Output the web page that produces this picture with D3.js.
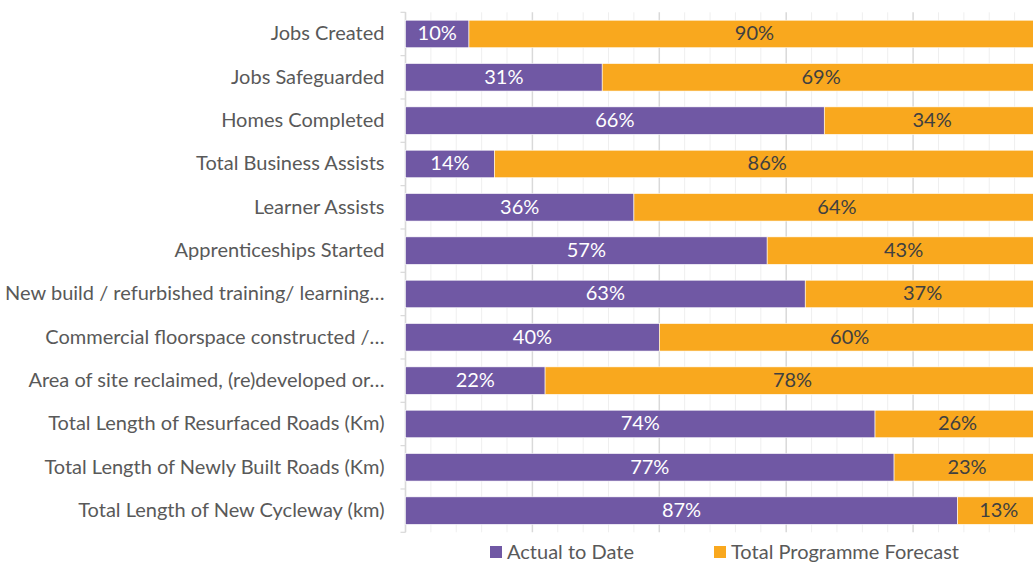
<!DOCTYPE html>
<html>
<head>
<meta charset="utf-8">
<script src="https://cdn.jsdelivr.net/npm/d3@7"></script>
<style>
  body { margin: 0; background: #fff; overflow: hidden; }
  svg { display: block; font-family: Lato, "Open Sans", sans-serif; }
</style>
</head>
<body>
<svg id="chart" width="1033" height="563"></svg>
<script>
// Categories, top to bottom
const categories = [
    "Jobs Created",
    "Jobs Safeguarded",
    "Homes Completed",
    "Total Business Assists",
    "Learner Assists",
    "Apprenticeships Started",
    "New build / refurbished training/ learning…",
    "Commercial floorspace constructed /…",
    "Area of site reclaimed, (re)developed or…",
    "Total Length of Resurfaced Roads (Km)",
    "Total Length of Newly Built Roads (Km)",
    "Total Length of New Cycleway (km)"
];
const actualToDate = [10, 31, 66, 14, 36, 57, 63, 40, 22, 74, 77, 87];
const programmeForecast = [90, 69, 34, 86, 64, 43, 37, 60, 78, 26, 23, 13];
const seriesNames = ["Actual to Date", "Total Programme Forecast"];
const seriesColors = ["#7058a4", "#f9a81e"];

const svg = d3.select("#chart");
const plotLeft = 405.5, plotRight = 1040, plotTop = 12.3, plotBottom = 532.3;

const x = d3.scaleLinear().domain([0, 1]).range([plotLeft, plotRight]);
const y = d3.scaleBand().domain(categories).range([plotTop, plotBottom])
    .paddingInner(0.365).paddingOuter(0.1825);

// gridlines: minor every 4%, major every 20%
const minorTicks = d3.range(0, 26).map(i => i * 0.04);
const isMajor = d => Math.round(d * 100) % 20 === 0;
svg.append("g").selectAll("line")
    .data(minorTicks)
    .enter().append("line")
    .attr("x1", d => x(d)).attr("x2", d => x(d))
    .attr("y1", plotTop).attr("y2", plotBottom)
    .attr("stroke", d => isMajor(d) ? "#d9d9d9" : "#efefef")
    .attr("stroke-width", d => isMajor(d) ? 1.5 : 1);

// left axis line and ticks
svg.append("line")
    .attr("x1", plotLeft).attr("x2", plotLeft).attr("y1", plotTop).attr("y2", plotBottom)
    .attr("stroke", "#d9d9d9").attr("stroke-width", 1.2);
const bounds = d3.range(0, categories.length + 1).map(i => plotTop + i * y.step());
svg.append("g").selectAll("line")
    .data(bounds)
    .enter().append("line")
    .attr("x1", plotLeft - 5).attr("x2", plotLeft)
    .attr("y1", d => d).attr("y2", d => d)
    .attr("stroke", "#d9d9d9").attr("stroke-width", 1.2);

// category labels
svg.append("g").selectAll("text")
    .data(categories)
    .enter().append("text")
    .attr("x", plotLeft - 21)
    .attr("y", d => y(d) + y.bandwidth() / 2)
    .attr("dy", "0.32em")
    .attr("text-anchor", "end")
    .attr("font-size", 20)
    .attr("fill", "#595959")
    .text(d => d);

// stacked bars
const rows = categories.map((c, i) => ({ cat: c, a: actualToDate[i] / 100, f: programmeForecast[i] / 100 }));
const segs = [];
rows.forEach(r => {
    segs.push({ cat: r.cat, x0: 0, x1: r.a, v: r.a, s: 0 });
    segs.push({ cat: r.cat, x0: r.a, x1: r.a + r.f, v: r.f, s: 1 });
});

svg.append("g").selectAll("rect")
    .data(segs)
    .enter().append("rect")
    .attr("x", d => x(d.x0))
    .attr("y", d => y(d.cat))
    .attr("width", d => x(d.x1) - x(d.x0))
    .attr("height", y.bandwidth())
    .attr("fill", d => seriesColors[d.s])
    .attr("stroke", "#fff")
    .attr("stroke-width", 0.6);

svg.append("g").selectAll("text")
    .data(segs)
    .enter().append("text")
    .attr("x", d => (x(d.x0) + x(d.x1)) / 2)
    .attr("y", d => y(d.cat) + y.bandwidth() / 2)
    .attr("dy", "0.32em")
    .attr("text-anchor", "middle")
    .attr("font-size", 20)
    .attr("fill", d => d.s === 0 ? "#ffffff" : "#404040")
    .text(d => Math.round(d.v * 100) + "%");

// legend
const legendX = [490, 714];
const legend = svg.append("g").selectAll("g")
    .data(seriesNames)
    .enter().append("g")
    .attr("transform", (d, i) => `translate(${legendX[i]}, 552)`);
legend.append("rect")
    .attr("x", 0).attr("y", -6).attr("width", 12).attr("height", 12)
    .attr("fill", (d, i) => seriesColors[i]);
legend.append("text")
    .attr("x", 17).attr("dy", "0.35em")
    .attr("font-size", 20).attr("fill", "#595959")
    .text(d => d);
</script>
</body>
</html>
